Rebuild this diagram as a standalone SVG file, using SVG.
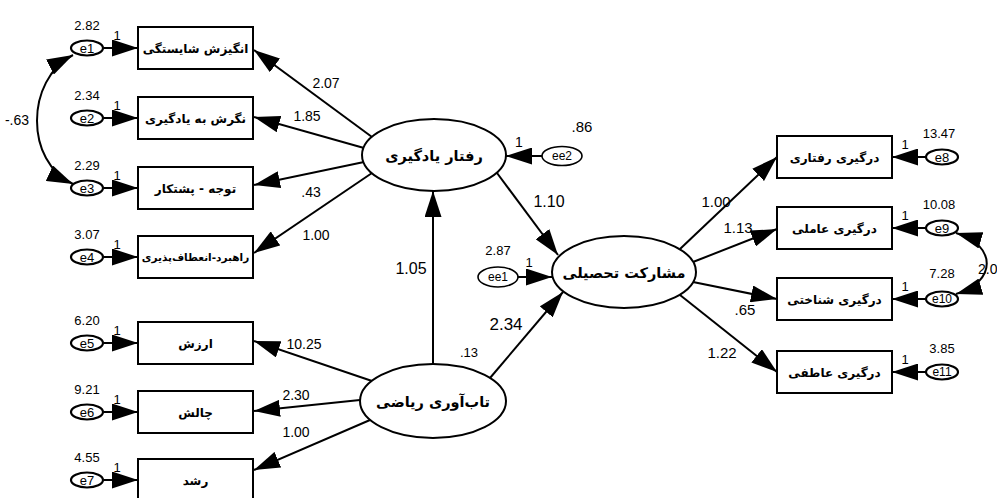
<svg xmlns="http://www.w3.org/2000/svg" width="997" height="498" viewBox="0 0 997 498">
<defs>
<marker id="ah" markerUnits="userSpaceOnUse" markerWidth="26" markerHeight="17" refX="26" refY="8.5" orient="auto-start-reverse" viewBox="0 0 26 17">
<path d="M0,0 L26,8.5 L0,17 z" fill="#000"/>
</marker>
<style>
.box{fill:#fff;stroke:#000;stroke-width:2}
.lat{fill:#fff;stroke:#000;stroke-width:2}
.err{fill:#fff;stroke:#000;stroke-width:2.2}
.err2{fill:#fff;stroke:#000;stroke-width:1.6}
.fa{font-family:"DejaVu Sans",sans-serif;font-weight:bold;text-anchor:middle;fill:#000}
.bt{font-size:12px}
.lt{font-size:14.5px}
.num{font-family:"Liberation Sans",Arial,sans-serif;text-anchor:middle;fill:#000}
.s12{font-size:12px}
.s13{font-size:13px}
.s14{font-size:14px}
.s15{font-size:15px}
.s16{font-size:16px}
.s17{font-size:17px}
.c line,.c path{stroke:#000;stroke-width:2;fill:none}
.arr{marker-end:url(#ah)}
.dbl{marker-start:url(#ah);marker-end:url(#ah)}
</style>
</defs>
<rect width="997" height="498" fill="#fff"/>

<g id="connectors" class="c">
<line class="arr" x1="104" y1="48" x2="138" y2="48"/>
<line class="arr" x1="104" y1="118" x2="138" y2="118"/>
<line class="arr" x1="104" y1="188" x2="138" y2="188"/>
<line class="arr" x1="104" y1="257" x2="138" y2="257"/>
<line class="arr" x1="104" y1="343" x2="138" y2="343"/>
<line class="arr" x1="104" y1="412" x2="138" y2="412"/>
<line class="arr" x1="104" y1="480" x2="138" y2="480"/>
<line class="arr" x1="926" y1="157" x2="892" y2="157"/>
<line class="arr" x1="926" y1="228" x2="892" y2="228"/>
<line class="arr" x1="926" y1="299" x2="892" y2="299"/>
<line class="arr" x1="926" y1="372" x2="892" y2="372"/>
<path class="dbl" d="M73,55 C25,80 25,162 73,184"/>
<path class="dbl" d="M956,233 C997,245 997,282 956,294"/>
<line class="arr" x1="372" y1="137" x2="254" y2="50"/>
<line class="arr" x1="364" y1="148" x2="254" y2="117"/>
<line class="arr" x1="364" y1="162" x2="254" y2="185"/>
<line class="arr" x1="372" y1="173" x2="254" y2="253"/>
<line class="arr" x1="372" y1="381" x2="254" y2="341"/>
<line class="arr" x1="360" y1="400" x2="254" y2="411"/>
<line class="arr" x1="370" y1="420" x2="254" y2="470"/>
<line class="arr" x1="433" y1="364" x2="433" y2="191"/>
<line class="arr" x1="497" y1="173" x2="558" y2="255"/>
<line class="arr" x1="490" y1="378" x2="563" y2="292"/>
<line class="arr" x1="542" y1="156" x2="506" y2="156"/>
<line class="arr" x1="518" y1="277" x2="552" y2="277"/>
<line class="arr" x1="680" y1="249" x2="777" y2="157"/>
<line class="arr" x1="693" y1="262" x2="777" y2="229"/>
<line class="arr" x1="693" y1="282" x2="777" y2="299"/>
<line class="arr" x1="680" y1="295" x2="777" y2="372"/>
</g>

<g id="edge-labels">
<text class="num s14" x="326" y="88">2.07</text>
<text class="num s14" x="307" y="121">1.85</text>
<text class="num s14" x="311" y="197">.43</text>
<text class="num s14" x="316" y="240">1.00</text>
<text class="num s14" x="304" y="349">10.25</text>
<text class="num s14" x="296" y="400">2.30</text>
<text class="num s14" x="296" y="437">1.00</text>
<text class="num s16" x="411" y="274">1.05</text>
<text class="num s13" x="469" y="357">.13</text>
<text class="num s17" x="506" y="330">2.34</text>
<text class="num s16" x="549" y="207">1.10</text>
<text class="num s15" x="716" y="207">1.00</text>
<text class="num s15" x="738" y="233">1.13</text>
<text class="num s15" x="745" y="315">.65</text>
<text class="num s15" x="722" y="358">1.22</text>
<text class="num s14" x="17" y="125">-.63</text>
<text class="num s14" x="978" y="274" style="text-anchor:start">2.0</text>
</g>

<g id="box1"><rect class="box" x="138" y="27" width="115" height="42"/><text class="fa bt" x="195.5" y="53">انگیزش شایستگی</text></g>
<g id="box2"><rect class="box" x="138" y="97" width="115" height="42"/><text class="fa bt" x="195.5" y="123">نگرش به یادگیری</text></g>
<g id="box3"><rect class="box" x="138" y="167" width="115" height="42"/><text class="fa bt" x="195.5" y="193">توجه - پشتکار</text></g>
<g id="box4"><rect class="box" x="138" y="236" width="115" height="42"/><text class="fa" style="font-size:10.5px" x="195.5" y="261">راهبرد-انعطاف‌پذیری</text></g>
<g id="box5"><rect class="box" x="138" y="322" width="115" height="42"/><text class="fa bt" x="195.5" y="348">ارزش</text></g>
<g id="box6"><rect class="box" x="138" y="391" width="115" height="42"/><text class="fa bt" x="195.5" y="417">چالش</text></g>
<g id="box7"><rect class="box" x="138" y="459" width="115" height="42"/><text class="fa bt" x="195.5" y="485">رشد</text></g>

<g id="box8"><rect class="box" x="777" y="136" width="115" height="42"/><text class="fa bt" x="834.5" y="162">درگیری رفتاری</text></g>
<g id="box9"><rect class="box" x="777" y="207" width="115" height="42"/><text class="fa bt" x="834.5" y="233">درگیری عاملی</text></g>
<g id="box10"><rect class="box" x="777" y="278" width="115" height="42"/><text class="fa bt" x="834.5" y="304">درگیری شناختی</text></g>
<g id="box11"><rect class="box" x="777" y="351" width="115" height="42"/><text class="fa bt" x="834.5" y="377">درگیری عاطفی</text></g>

<g id="e1"><ellipse class="err" cx="87" cy="48" rx="16" ry="7.5"/><text class="num s13" x="87" y="52.5">e1</text><text class="num s13" x="87" y="30">2.82</text><text class="num s13" x="117" y="40">1</text></g>
<g id="e2"><ellipse class="err" cx="87" cy="118" rx="16" ry="7.5"/><text class="num s13" x="87" y="122.5">e2</text><text class="num s13" x="87" y="100">2.34</text><text class="num s13" x="117" y="110">1</text></g>
<g id="e3"><ellipse class="err" cx="87" cy="188" rx="16" ry="7.5"/><text class="num s13" x="87" y="192.5">e3</text><text class="num s13" x="87" y="170">2.29</text><text class="num s13" x="117" y="180">1</text></g>
<g id="e4"><ellipse class="err" cx="87" cy="257" rx="16" ry="7.5"/><text class="num s13" x="87" y="261.5">e4</text><text class="num s13" x="87" y="239">3.07</text><text class="num s13" x="117" y="249">1</text></g>
<g id="e5"><ellipse class="err" cx="87" cy="343" rx="16" ry="7.5"/><text class="num s13" x="87" y="347.5">e5</text><text class="num s13" x="87" y="325">6.20</text><text class="num s13" x="117" y="335">1</text></g>
<g id="e6"><ellipse class="err" cx="87" cy="412" rx="16" ry="7.5"/><text class="num s13" x="87" y="416.5">e6</text><text class="num s13" x="87" y="394">9.21</text><text class="num s13" x="117" y="404">1</text></g>
<g id="e7"><ellipse class="err" cx="87" cy="480" rx="16" ry="7.5"/><text class="num s13" x="87" y="484.5">e7</text><text class="num s13" x="87" y="462">4.55</text><text class="num s13" x="117" y="472">1</text></g>

<g id="e8"><ellipse class="err" cx="942" cy="157" rx="16" ry="7.5"/><text class="num s13" x="942" y="161.5">e8</text><text class="num s13" x="939" y="138">13.47</text><text class="num s13" x="905" y="149">1</text></g>
<g id="e9"><ellipse class="err" cx="942" cy="228" rx="16" ry="7.5"/><text class="num s13" x="942" y="232.5">e9</text><text class="num s13" x="939" y="209">10.08</text><text class="num s13" x="905" y="220">1</text></g>
<g id="e10"><ellipse class="err" cx="942" cy="299" rx="16" ry="7.5"/><text class="num s12" x="942" y="303">e10</text><text class="num s13" x="942" y="278">7.28</text><text class="num s13" x="905" y="291">1</text></g>
<g id="e11"><ellipse class="err" cx="942" cy="372" rx="16" ry="7.5"/><text class="num s12" x="942" y="376">e11</text><text class="num s13" x="942" y="353">3.85</text><text class="num s13" x="905" y="364">1</text></g>

<g id="ee2"><ellipse class="err2" cx="562" cy="156" rx="20" ry="9.5"/><text class="num s12" x="562" y="160">ee2</text><text class="num s15" x="582" y="132">.86</text><text class="num s14" x="519" y="147">1</text></g>
<g id="ee1"><ellipse class="err2" cx="498" cy="277" rx="20" ry="10"/><text class="num s12" x="498" y="281">ee1</text><text class="num s13" x="498" y="255">2.87</text><text class="num s13" x="529" y="267">1</text></g>

<g id="raftar"><ellipse class="lat" cx="434" cy="155" rx="72" ry="36"/><text class="fa lt" x="434" y="161">رفتار یادگیری</text></g>
<g id="mosharekat"><ellipse class="lat" cx="624" cy="272" rx="72" ry="36"/><text class="fa lt" x="624" y="278">مشارکت تحصیلی</text></g>
<g id="tabavari"><ellipse class="lat" cx="433" cy="401" rx="73" ry="37"/><text class="fa lt" x="433" y="407">تاب‌آوری ریاضی</text></g>
</svg>
